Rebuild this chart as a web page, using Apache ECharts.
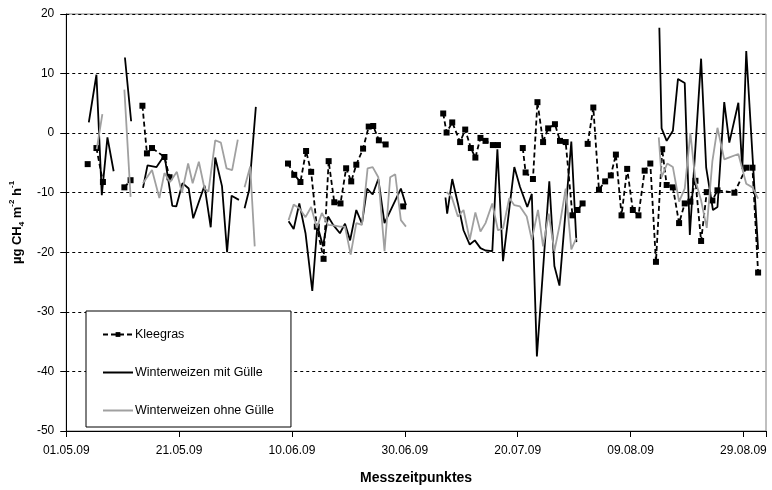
<!DOCTYPE html>
<html>
<head>
<meta charset="utf-8">
<script src="https://cdn.jsdelivr.net/npm/echarts@6/dist/echarts.min.js"></script>
<style>html,body{margin:0;padding:0;background:#fff}#c{width:772px;height:490px}</style>
</head>
<body>
<div id="c"></div>
<script>
// x positions: days after 01.05.09 ; null value = gap in the line
const tickLabels = ['01.05.09','21.05.09','10.06.09','30.06.09','20.07.09','09.08.09','29.08.09'];
const seriesNames = ['Kleegras','Winterweizen mit Gülle','Winterweizen ohne Gülle'];

const kleeDays = [3.8,4.6,5.35,6.5,8.5,10.3,11.4,12.5,13.5,14.3,15.2,17.4,18.3,30,
  39.3,40.4,41.5,42.5,43.4,44.4,45.6,46.5,47.5,48.6,49.6,50.5,51.4,52.6,53.6,54.4,55.4,56.6,58,59.7,63,
  66.8,67.4,68.4,69.8,70.7,71.7,72.5,73.4,74.3,75.6,76.5,78.5,80.9,81.4,82.7,83.5,84.5,85.4,86.6,87.5,88.5,89.7,90.6,91.5,92,
  92.4,93.4,94.4,95.5,96.5,97.4,98.4,99.4,100.4,101.4,102.5,103.5,104.5,105.6,106.4,107.5,108.6,109.6,110.6,111.5,112.5,113.5,114.5,115.4,118.4,120.5,121.6,122.6];
const kleeValues = [-5.2,null,-2.5,-8.2,null,-9.1,-7.9,null,4.6,-3.4,-2.5,-4.0,-7.4,null,
  -5.1,-7.0,-8.2,-3.0,-6.5,-15.7,-21.1,-4.7,-11.6,-11.8,-5.9,-8.1,-5.3,-2.6,1.1,1.2,-1.2,-1.9,null,-12.3,null,
  3.3,0.1,1.8,-1.5,0.6,-2.5,-4.1,-0.8,-1.3,-2.0,-2.0,null,-2.5,-6.6,-7.7,5.2,-1.5,0.8,1.5,-1.3,-1.5,-13.8,-12.9,-11.8,null,
  -1.8,4.3,-9.5,-8.1,-7.1,-3.6,-13.8,-6.0,-12.9,-13.8,-6.3,-5.1,-21.6,-2.7,-8.7,-9.1,-15.1,-11.8,-11.5,-8.0,-18.1,-9.9,-11.3,-9.6,-10.0,-5.8,-5.8,-23.4];

const mitDays = [4,5.35,6.3,7.3,8.4,9.4,10.4,11.5,12.5,13.6,14.4,16.0,17.4,18.8,19.5,20.6,21.7,22.5,24.5,25.6,26.4,27.6,28.5,29.3,30.6,31.1,31.6,32.4,33.6,36,
  39.4,40.3,41.3,42.4,43.6,44.5,45.5,46.4,47.3,48.5,49.4,50.3,51.4,52.4,53.3,54.3,55.3,56.4,59.3,60.2,63,
  67.2,67.5,68.4,69.4,70.4,71.5,72.4,73.4,74.3,75.5,76.4,77.4,79.4,80.4,81.7,82.5,83.4,85.6,86.5,87.4,89.5,90.4,95,
  105.1,105.5,106.4,107.5,108.4,109.6,110.5,112.5,113.4,114.6,115.4,116.6,117.5,119.1,119.8,120.5,122.6];
const mitValues = [1.8,9.8,-10.4,-0.7,-6.4,null,12.7,2.0,null,-9.2,-5.4,-5.7,-3.7,-12.2,-12.3,-8.4,-9.3,-14.3,-8.8,-15.8,-4.1,-8.9,-20.0,-10.5,-11.2,null,-12.6,-9.6,4.4,null,
  -14.8,-16.1,-11.8,-16.8,-26.5,-15.5,-19.0,-14.0,-15.4,-16.8,-15.2,-18.0,-12.9,-15.2,-9.3,-10.3,-7.7,-15.1,-9.3,-12.1,null,
  -10.8,-13.5,-7.7,-11.8,-16.3,-18.7,-18.0,-19.3,-19.7,-19.8,-2.7,-21.5,-5.7,-9.0,-12.4,-10.2,-37.5,-8.1,-22.3,-25.6,-1.4,-18.3,null,
  17.7,0.8,-1.3,0.4,9.1,8.4,-17.1,12.5,-5.8,-12.9,-12.4,5.2,-1.6,5.1,-6.0,13.8,-19.5];

const ohneDays = [5.4,6.4,8,10.3,11.4,12.5,13.6,15.2,16.5,17.4,18.4,19.6,20.5,21.6,22.4,23.5,24.5,25.2,26.4,27.4,28.4,29.4,30.4,31,31.6,32.6,33.4,36,
  39.4,40.3,41.3,42.4,43.4,44.4,45.3,46.4,47.3,48.5,49.4,50.4,51.4,52.4,53.4,54.3,55.3,56.4,57.4,58.3,59.3,60.2,63,
  67.4,68.3,69.4,70.4,71.5,72.5,73.4,74.3,75.5,76.5,77.4,78.5,79.4,80.4,81.6,82.5,83.6,84.5,85.5,86.5,87.5,88.5,89.5,90.4,95,
  105.0,105.5,106.5,107.5,108.6,109.6,110.6,111.5,112.5,113.5,114.5,115.4,116.6,117.4,119.1,120.5,121.6,122.6];
const ohneValues = [-2.7,3.2,null,7.3,-10.7,null,-8.4,-6.2,-10.9,-6.7,-8.2,-6.5,-10.0,-5.1,-8.4,-4.8,-9.3,-9.8,-1.2,-1.6,-5.9,-6.2,-1.1,null,-9.1,-5.6,-19.0,null,
  -14.6,-12.0,-12.6,-14.1,-12.4,-15.9,-13.4,-15.4,-15.5,-15.7,-15.7,-20.4,-15.1,-15.4,-5.9,-5.7,-7.4,-19.8,-7.4,-6.9,-14.6,-15.7,null,
  -9.9,-10.7,-14.0,-12.9,-17.9,-13.3,-16.5,-15.1,-11.8,-16.3,-16.0,-10.9,-12.1,-12.3,-14.0,-17.9,-12.9,-19.0,-13.5,-19.8,-15.1,-9.3,-19.5,-17.6,null,
  -0.7,-7.4,-5.1,-5.7,-11.5,-9.3,0,-8.0,-11.3,-15.9,-4.7,0.9,-4.4,-4.1,-3.5,-8.5,-9.1,-11.0];

const pair = (d, v) => d.map((x, i) => [x, v[i]]);
const FONT = '"Liberation Sans", Arial, sans-serif';

const chart = echarts.init(document.getElementById('c'), null, {renderer: 'canvas'});
chart.setOption({
  animation: false,
  backgroundColor: '#fff',
  grid: {left: 63, right: 6, top: 14, bottom: 51, show: true, borderColor: '#808080', borderWidth: 1},
  legend: {
    orient: 'vertical', left: 86, top: 311,
    padding: [17, 17, 10, 16], itemGap: 25, itemWidth: 30, itemHeight: 6,
    backgroundColor: '#fff', borderColor: '#000', borderWidth: 1, borderRadius: 0,
    textStyle: {fontFamily: FONT, fontSize: 12.5, color: '#000', padding: [0, 0, 0, -3]},
    data: [
      {name: seriesNames[0]},
      {name: seriesNames[1], itemStyle: {opacity: 0}},
      {name: seriesNames[2], itemStyle: {opacity: 0}}
    ]
  },
  xAxis: {
    type: 'value', min: 0, max: 124, interval: 20,
    axisLine: {onZero: false, lineStyle: {color: '#000', width: 1}},
    axisTick: {show: true, length: 6, lineStyle: {color: '#000'}},
    axisLabel: {color: '#000', fontFamily: FONT, fontSize: 12, margin: 14,
      formatter: v => (v % 20 === 0 && tickLabels[v / 20] !== undefined) ? tickLabels[v / 20] : ''},
    splitLine: {show: false},
    name: 'Messzeitpunktes', nameLocation: 'middle', nameGap: 40,
    nameTextStyle: {color: '#000', fontFamily: FONT, fontSize: 14, fontWeight: 'bold'}
  },
  yAxis: {
    type: 'value', min: -50, max: 20, interval: 10,
    axisLine: {show: true, onZero: false, lineStyle: {color: '#000', width: 1}},
    axisTick: {show: true, length: 6, lineStyle: {color: '#000'}},
    axisLabel: {color: '#000', fontFamily: FONT, fontSize: 12, margin: 12},
    splitLine: {show: true, lineStyle: {color: '#000', width: 1, type: [3, 3]}},
    name: '{a|µg CH}{b|4}{a| m}{c|-2}{a| h}{c|-1}',
    nameLocation: 'middle', nameGap: 20,
    nameTextStyle: {
      rich: {
        a: {fontFamily: FONT, fontSize: 13, fontWeight: 'bold', color: '#000', lineHeight: 18, verticalAlign: 'middle'},
        b: {fontFamily: FONT, fontSize: 8, fontWeight: 'bold', color: '#000', lineHeight: 9, verticalAlign: 'bottom'},
        c: {fontFamily: FONT, fontSize: 8, fontWeight: 'bold', color: '#000', lineHeight: 9, verticalAlign: 'top'}
      }
    }
  },
  series: [
    {name: seriesNames[0], type: 'line', data: pair(kleeDays, kleeValues), connectNulls: false,
      symbol: 'rect', symbolSize: 6, showAllSymbol: true,
      lineStyle: {color: '#000', width: 1.8, type: [5, 3]}, itemStyle: {color: '#000'}, z: 2},
    {name: seriesNames[1], type: 'line', data: pair(mitDays, mitValues), connectNulls: false,
      symbol: 'none', lineStyle: {color: '#000', width: 1.8}, itemStyle: {color: '#000'}, z: 3},
    {name: seriesNames[2], type: 'line', data: pair(ohneDays, ohneValues), connectNulls: false,
      symbol: 'none', lineStyle: {color: '#a0a0a0', width: 1.8}, itemStyle: {color: '#a0a0a0'}, z: 4}
  ]
});
</script>
</body>
</html>
